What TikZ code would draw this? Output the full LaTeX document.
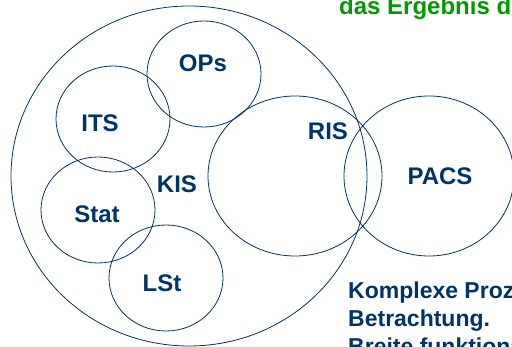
\documentclass[tikz,border=0pt]{standalone}
\usepackage{fontspec}
\setmainfont{Liberation Sans}
\definecolor{navy}{RGB}{0,51,102}
\definecolor{leafgreen}{RGB}{0,155,0}
\tikzset{
  setline/.style={draw=navy, line width=0.8pt},
  setlabel/.style={text=navy, font=\fontsize{24}{28}\selectfont\bfseries, inner sep=0pt},
  prose/.style={text=navy, font=\fontsize{23}{28}\selectfont\bfseries, anchor=base west, inner sep=0pt},
}
\begin{document}
\begin{tikzpicture}[x=1pt, y=-1pt]
  \clip (0,0) rectangle (512,347);
  \fill[white] (0,0) rectangle (512,347);

  % subsystem sets
  \draw[setline] (189,176) ellipse [x radius=178, y radius=170];
  \draw[setline] (204,74)  ellipse [x radius=57, y radius=53];
  \draw[setline] (113,119) ellipse [x radius=57, y radius=53];
  \draw[setline] (98,210)  ellipse [x radius=57, y radius=53];
  \draw[setline] (166,278) ellipse [x radius=57, y radius=53];
  \draw[setline] (295,176) ellipse [x radius=87, y radius=80];
  \draw[setline] (429,176) ellipse [x radius=85, y radius=80];

  % set names
  \node[setlabel] (ops)  at (203,63)  {OPs};
  \node[setlabel] (its)  at (100,123) {ITS};
  \node[setlabel] (kis)  at (177,184) {KIS};
  \node[setlabel] (ris)  at (328,131) {RIS};
  \node[setlabel] (pacs) at (440,176) {PACS};
  \node[setlabel] (stat) at (97,214)  {Stat};
  \node[setlabel] (lst)  at (162,283) {LSt};

  % running text
  \node[prose, text=leafgreen, font=\fontsize{24}{28}\selectfont\bfseries] (head) at (339,15) {das Ergebnis der};
  \node[prose] (l1) at (348,299) {Komplexe Prozesse};
  \node[prose] (l2) at (348,327) {Betrachtung.};
  \node[prose] (l3) at (348,355) {Breite funktionale};
\end{tikzpicture}
\end{document}
